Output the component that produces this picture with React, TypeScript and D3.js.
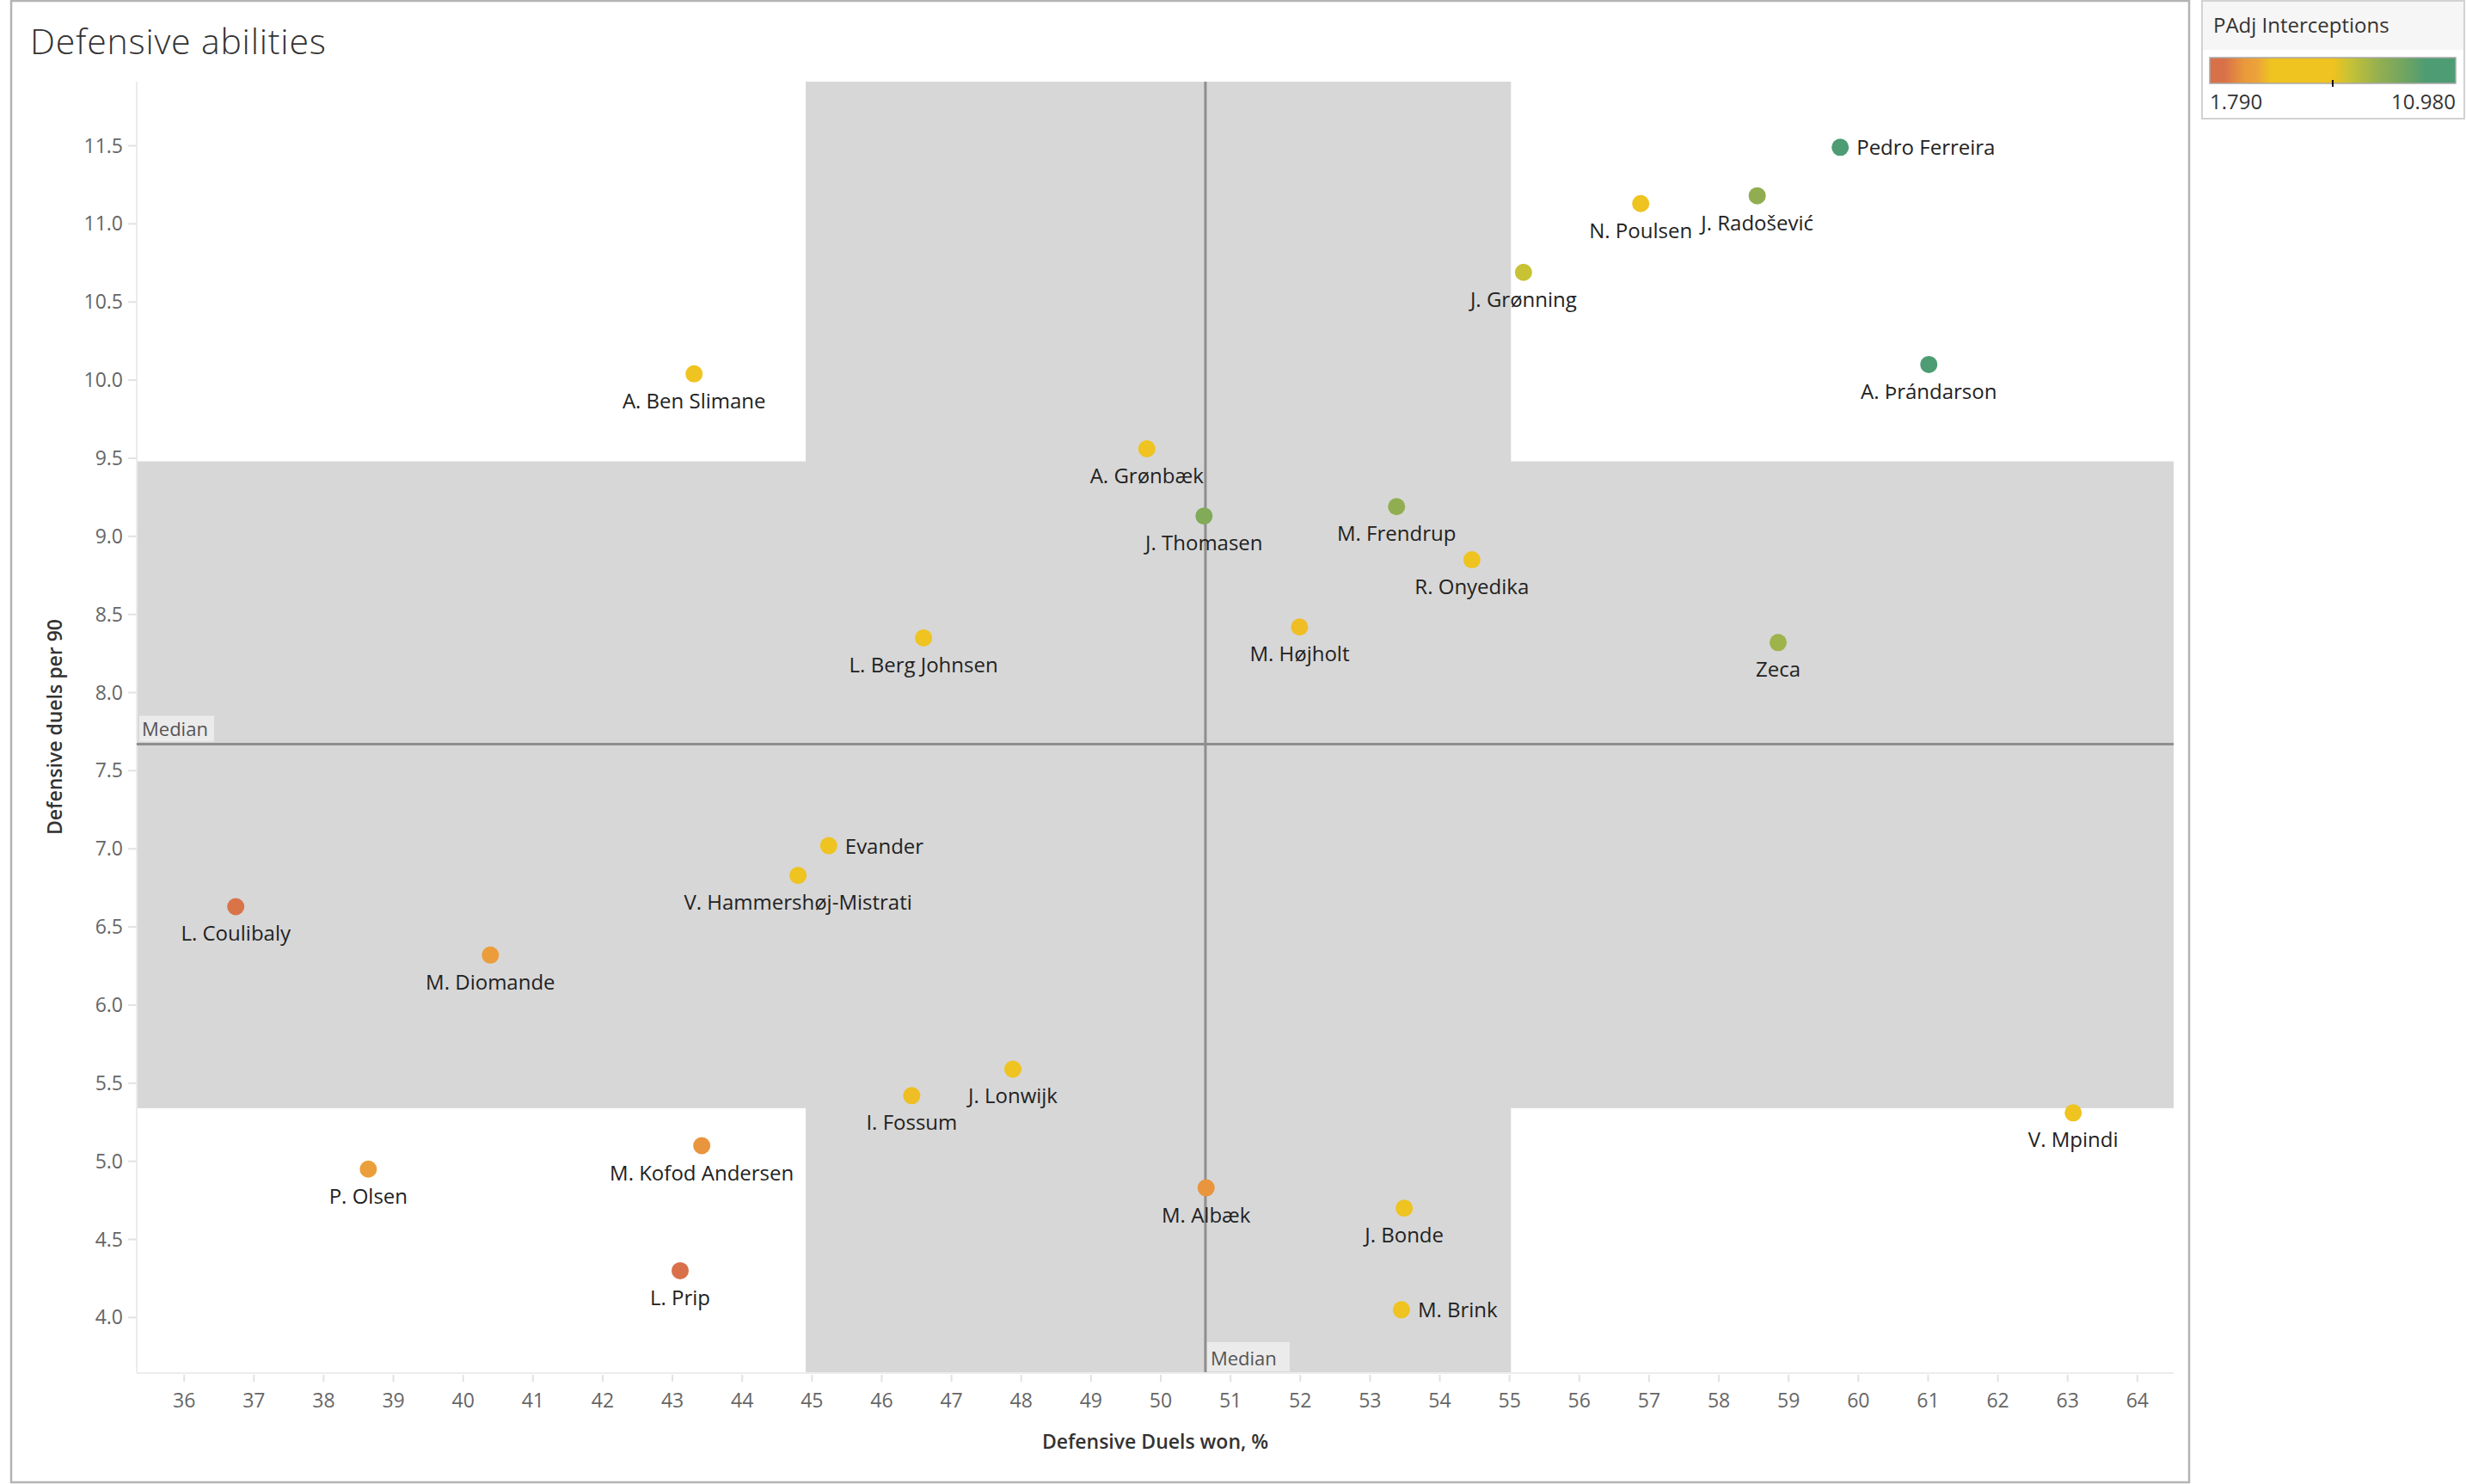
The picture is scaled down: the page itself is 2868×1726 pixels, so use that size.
import * as d3 from "d3";

const W = 2868;
const H = 1726;
const PLOT = { left: 159, right: 2528, top: 95, bottom: 1596 };
const FONT = "'Open Sans', 'DejaVu Sans', sans-serif";

// player data
const players = [
  "Pedro Ferreira", "N. Poulsen", "J. Radošević", "J. Grønning", "A. Þrándarson",
  "A. Ben Slimane", "A. Grønbæk", "J. Thomasen", "M. Frendrup", "R. Onyedika",
  "L. Berg Johnsen", "M. Højholt", "Zeca", "Evander", "V. Hammershøj-Mistrati",
  "L. Coulibaly", "M. Diomande", "J. Lonwijk", "I. Fossum", "V. Mpindi",
  "M. Kofod Andersen", "P. Olsen", "M. Albæk", "J. Bonde", "L. Prip", "M. Brink",
];
const duelsWon = [
  59.74, 56.88, 58.55, 55.2, 61.01,
  43.31, 49.8, 50.62, 53.38, 54.46,
  46.6, 51.99, 58.85, 45.24, 44.8,
  36.74, 40.39, 47.88, 46.43, 63.08,
  43.42, 38.64, 50.65, 53.49, 43.11, 53.45,
];
const duelsPer90 = [
  11.49, 11.13, 11.18, 10.69, 10.1,
  10.04, 9.56, 9.13, 9.19, 8.85,
  8.35, 8.42, 8.32, 7.02, 6.83,
  6.63, 6.32, 5.59, 5.42, 5.31,
  5.1, 4.95, 4.83, 4.7, 4.3, 4.05,
];
const interceptions = [
  10.98, 5.2, 8.2, 7.0, 10.6,
  4.8, 5.5, 8.6, 8.2, 5.9,
  4.6, 4.0, 7.9, 5.0, 4.7,
  2.4, 3.3, 4.4, 4.0, 4.9,
  3.0, 3.4, 3.0, 4.5, 2.0, 4.3,
];
const rightLabelled = ["Pedro Ferreira", "Evander", "M. Brink"];

const xTicks = d3.range(36, 65, 1);
const yTicks = d3.range(4, 11.51, 0.5);
const xDomain = [35.32, 64.52];
const yDomain = [3.65, 11.91];
const xMedian = 50.64;
const yMedian = 7.67;
const xBand = [44.91, 55.02];
const yBand = [5.34, 9.48];

const colorMin = 1.79;
const colorMax = 10.98;
const colorStops = [0, 0.06, 0.14, 0.19, 0.25, 0.5, 0.57, 0.64, 0.7, 0.8, 0.88, 1];
const colorRange = [
  "#d8714a", "#d8714a", "#ea993b", "#eca23a", "#efc320", "#efc320",
  "#c6c236", "#a8b745", "#8fae52", "#6ea462", "#4d9c73", "#4d9c73",
];

export default function App() {
  const x = d3.scaleLinear().domain(xDomain).range([PLOT.left, PLOT.right]);
  const y = d3.scaleLinear().domain(yDomain).range([PLOT.bottom, PLOT.top]);
  const color = d3
    .scaleLinear<string>()
    .domain(colorStops.map((s) => colorMin + s * (colorMax - colorMin)))
    .range(colorRange)
    .interpolate(d3.interpolateRgb)
    .clamp(true);

  const pts = players.map((name, i) => ({
    name,
    cx: x(duelsWon[i]),
    cy: y(duelsPer90[i]),
    fill: color(interceptions[i]),
    right: rightLabelled.includes(name),
  }));

  const legend = { x: 2570, y: 67, w: 286, h: 30 };

  return (
    <svg
      width={W}
      height={H}
      style={{ position: "absolute", left: 0, top: 0, background: "#fff" }}
      fontFamily={FONT}
    >
      <defs>
        <linearGradient id="legendGrad" x1="0" x2="1" y1="0" y2="0">
          {colorStops.map((s, i) => (
            <stop key={i} offset={s} stopColor={colorRange[i]} />
          ))}
        </linearGradient>
      </defs>

      {/* outer frame */}
      <rect x={13} y={1} width={2533} height={1723} fill="#fff" stroke="#b4b4b4" strokeWidth={2.5} />

      <text x={35} y={63} fontSize={41} fontWeight={300} letterSpacing={0.8} fill="#333">
        Defensive abilities
      </text>

      {/* reference bands */}
      <rect x={x(xBand[0])} y={PLOT.top} width={x(xBand[1]) - x(xBand[0])} height={PLOT.bottom - PLOT.top} fill="#d7d7d7" />
      <rect x={PLOT.left} y={y(yBand[1])} width={PLOT.right - PLOT.left} height={y(yBand[0]) - y(yBand[1])} fill="#d7d7d7" />

      <line x1={PLOT.left} x2={PLOT.left} y1={PLOT.top} y2={PLOT.bottom} stroke="#ececec" strokeWidth={2} />
      <line x1={PLOT.left} x2={PLOT.right} y1={PLOT.bottom + 1} y2={PLOT.bottom + 1} stroke="#ececec" strokeWidth={2} />

      {/* median lines */}
      <line x1={PLOT.left} x2={PLOT.right} y1={y(yMedian)} y2={y(yMedian)} stroke="#8e8e8e" strokeWidth={3} />
      <line x1={x(xMedian)} x2={x(xMedian)} y1={PLOT.top} y2={PLOT.bottom} stroke="#8e8e8e" strokeWidth={3} />

      <rect x={PLOT.left + 3} y={y(yMedian) - 33} width={87} height={30} fill="#ebebeb" />
      <text x={PLOT.left + 6} y={y(yMedian) - 9} fontSize={22} fill="#555">Median</text>
      <rect x={x(xMedian) + 2} y={PLOT.bottom - 35} width={96} height={34} fill="#ebebeb" />
      <text x={x(xMedian) + 6} y={PLOT.bottom - 8} fontSize={22} fill="#555">Median</text>

      {/* y axis */}
      {yTicks.map((t) => (
        <g key={t}>
          <line x1={PLOT.left - 10} x2={PLOT.left} y1={y(t)} y2={y(t)} stroke="#e2e2e2" strokeWidth={2} />
          <text x={143} y={y(t)} dy="0.35em" textAnchor="end" fontSize={23} fill="#666">
            {d3.format(".1f")(t)}
          </text>
        </g>
      ))}
      <text
        transform={`translate(72,${(PLOT.top + PLOT.bottom) / 2}) rotate(-90)`}
        textAnchor="middle"
        fontSize={23}
        fontWeight={600}
        fill="#333"
      >
        Defensive duels per 90
      </text>

      {/* x axis */}
      {xTicks.map((t) => (
        <g key={t}>
          <line x1={x(t)} x2={x(t)} y1={PLOT.bottom + 3} y2={PLOT.bottom + 11} stroke="#e2e2e2" strokeWidth={2} />
          <text x={x(t)} y={1637} textAnchor="middle" fontSize={23} fill="#666">
            {t}
          </text>
        </g>
      ))}
      <text x={(PLOT.left + PLOT.right) / 2} y={1685} textAnchor="middle" fontSize={23} fontWeight={600} fill="#333">
        Defensive Duels won, %
      </text>

      {/* points */}
      {pts.map((p) => (
        <g key={p.name}>
          <circle cx={p.cx} cy={p.cy} r={10} fill={p.fill} />
          {p.right ? (
            <text x={p.cx + 19} y={p.cy + 9} fontSize={24} fill="#222">{p.name}</text>
          ) : (
            <text x={p.cx} y={p.cy + 40} textAnchor="middle" fontSize={24} fill="#222">{p.name}</text>
          )}
        </g>
      ))}

      {/* colour legend */}
      <rect x={2561} y={1} width={305} height={137} fill="#fff" stroke="#d2d2d2" strokeWidth={2} />
      <rect x={2562} y={2} width={303} height={56} fill="#f6f6f6" />
      <text x={2574} y={38} fontSize={24} fill="#333">PAdj Interceptions</text>
      <rect x={legend.x} y={legend.y} width={legend.w} height={legend.h} fill="url(#legendGrad)" stroke="#a8a8a8" strokeWidth={1.5} />
      <line x1={legend.x + legend.w / 2} x2={legend.x + legend.w / 2} y1={legend.y + legend.h - 4} y2={legend.y + legend.h + 4} stroke="#111" strokeWidth={2} />
      <text x={legend.x} y={127} fontSize={24} fill="#333">{d3.format(".3f")(colorMin)}</text>
      <text x={legend.x + legend.w} y={127} textAnchor="end" fontSize={24} fill="#333">{d3.format(".3f")(colorMax)}</text>
    </svg>
  );
}
